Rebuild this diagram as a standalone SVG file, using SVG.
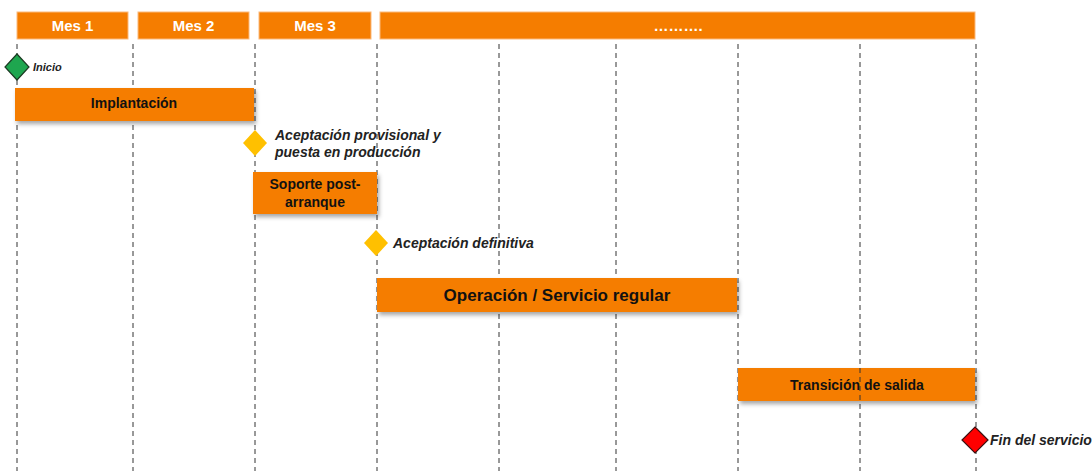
<svg xmlns="http://www.w3.org/2000/svg" width="1092" height="471" viewBox="0 0 1092 471">
<defs>
<filter id="sh" x="-10%" y="-30%" width="120%" height="180%">
<feDropShadow dx="2" dy="3" stdDeviation="2" flood-color="#000" flood-opacity="0.35"/>
</filter>
</defs>
<style>
.hdr{fill:#f57d00;stroke:#fbb97a;stroke-width:1}
.bar{fill:#f57d00;filter:url(#sh)}
.ht{font-family:"Liberation Sans",Arial,sans-serif;font-weight:bold;font-size:15px;fill:#fff;text-anchor:middle}
.bt{font-family:"Liberation Sans",Arial,sans-serif;font-weight:bold;font-size:14px;fill:#111;text-anchor:middle}
.mt{font-family:"Liberation Sans",Arial,sans-serif;font-weight:bold;font-style:italic;font-size:14px;fill:#222}
.grid line{stroke:#333;stroke-width:1;stroke-dasharray:5 4}
</style>
<rect width="1092" height="471" fill="#fff"/>
<g id="header">
<rect class="hdr" x="17" y="12" width="111" height="27"/>
<text class="ht" x="72.5" y="31">Mes 1</text>
<rect class="hdr" x="138" y="12" width="111" height="27"/>
<text class="ht" x="193.5" y="31">Mes 2</text>
<rect class="hdr" x="259" y="12" width="112" height="27"/>
<text class="ht" x="315" y="31">Mes 3</text>
<rect class="hdr" x="380" y="12" width="595" height="27"/>
<text class="ht" x="678" y="31">……….</text>
</g>
<g id="connectors" class="grid">
<line x1="17" y1="44" x2="17" y2="471"/>
<line x1="133" y1="44" x2="133" y2="471"/>
<line x1="255" y1="44" x2="255" y2="471"/>
<line x1="377" y1="44" x2="377" y2="471"/>
<line x1="499" y1="44" x2="499" y2="471"/>
<line x1="616" y1="44" x2="616" y2="471"/>
<line x1="738" y1="44" x2="738" y2="471"/>
<line x1="860" y1="44" x2="860" y2="471"/>
<line x1="976" y1="44" x2="976" y2="471"/>
</g>
<g id="inicio">
<polygon points="17,54 29,67 17,80 5,67" fill="#1ea64f" stroke="#1b3a22" stroke-width="1.2"/>
<text class="mt" x="33" y="71" font-size="11" style="font-size:11px">Inicio</text>
</g>
<g id="implantacion">
<rect class="bar" x="15" y="88" width="239" height="33"/>
<text class="bt" x="134" y="108">Implantación</text>
</g>
<g id="aceptacion-provisional">
<polygon points="255,130 267,143 255,156 243,143" fill="#ffc000"/>
<text class="mt" x="275" y="140">Aceptación provisional y</text>
<text class="mt" x="275" y="157">puesta en producción</text>
</g>
<g id="soporte">
<rect class="bar" x="253" y="172" width="124" height="42"/>
<text class="bt" x="315" y="189">Soporte post-</text>
<text class="bt" x="315" y="207">arranque</text>
</g>
<g id="aceptacion-definitiva">
<polygon points="376,230 388,243 376,256 364,243" fill="#ffc000"/>
<text class="mt" x="393" y="248">Aceptación definitiva</text>
</g>
<g id="operacion">
<rect class="bar" x="377" y="278" width="360" height="34"/>
<text class="bt" x="557" y="301" style="font-size:17px">Operación / Servicio regular</text>
</g>
<g id="transicion">
<rect class="bar" x="738" y="368" width="237" height="33"/>
<line x1="860" y1="368" x2="860" y2="401" stroke="#333" stroke-dasharray="5 4"/>
<text class="bt" x="857" y="390">Transición de salida</text>
</g>
<g id="fin">
<polygon points="975,427 988,440 975,453 962,440" fill="#ff0000" stroke="#3a1010" stroke-width="1.2"/>
<text class="mt" x="990" y="445">Fin del servicio</text>
</g>
</svg>
